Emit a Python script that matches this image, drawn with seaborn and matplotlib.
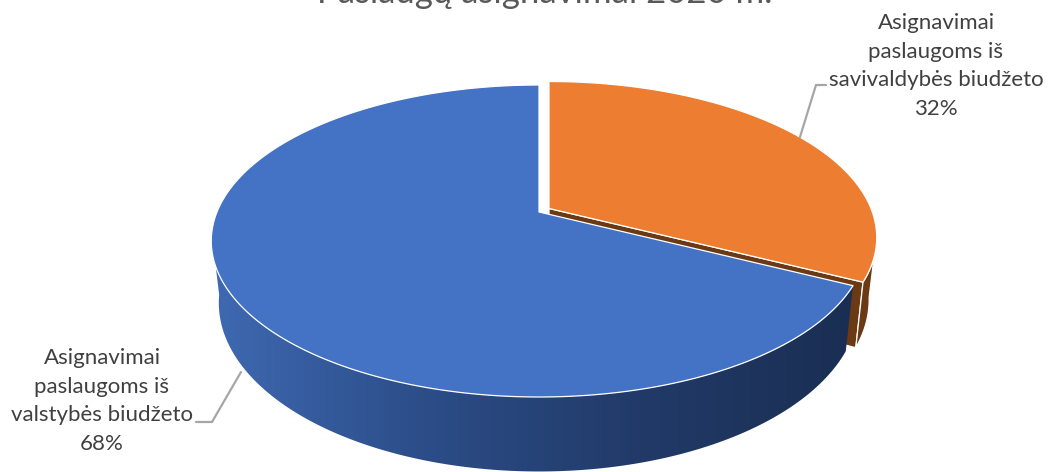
import numpy as np
import matplotlib
matplotlib.use("Agg")
import matplotlib.pyplot as plt
from matplotlib.colors import LinearSegmentedColormap
from matplotlib.patches import Polygon
import seaborn as sns

# ---- data ----
title = "Paslaugų asignavimai 2020 m."
categories = ["Asignavimai\npaslaugoms iš\nsavivaldybės biudžeto",
              "Asignavimai\npaslaugoms iš\nvalstybės biudžeto"]
values = [32.4, 67.6]
top_colors = ["#ED7D31", "#4472C4"]
cut_colors = ["#6B3A14", "#1A2E52"]
side_ramp = ["#3F6AB3", "#2C4D88", "#213A68", "#1A2E52"]

sns.set_theme(style="white")
plt.rcParams["font.family"] = ["Lato", "DejaVu Sans"]

W, H = 1057, 472
fig, ax = plt.subplots(figsize=(W / 100, H / 100), dpi=100)
fig.subplots_adjust(0, 0, 1, 1)
ax.set_xlim(0, W)
ax.set_ylim(H, 0)
ax.axis("off")

# perspective projection of the pie disc
CX, CY, A, B, K = 539.0, 241.0, 322.0, 156.0, 0.186
S_X, S_Y, DEPTH = 0.977, 1.08, 62.0


def project(theta_deg, r=1.0):
    t = np.radians(theta_deg)
    u, v = r * np.sin(t), -r * np.cos(t)
    d = 1 - K * v
    return A * u / d, (B * v - B * K) / d


def top(theta, off, r=1.0):
    x, y = project(theta, r)
    return np.column_stack([CX + off[0] + x, CY + off[1] + y])


def bottom(theta, off, r=1.0):
    x, y = project(theta, r)
    return np.column_stack([CX + off[0] + S_X * x, CY + off[1] + S_Y * y + DEPTH])


split = 360.0 * values[0] / sum(values)
off_o, off_b = (10.0, -3.5), (0.0, 0.0)
white = dict(edgecolor="white", linewidth=0.9, joinstyle="round")

# orange cut face and outer rim
cut = np.vstack([top(0, off_o, 0), top(split, off_o), bottom(split, off_o), bottom(0, off_o, 0)])
ax.add_patch(Polygon(cut, facecolor=cut_colors[0], zorder=1, **white))
th = np.linspace(100, split, 40)
rim = np.vstack([top(th, off_o), bottom(th, off_o)[::-1]])
ax.add_patch(Polygon(rim, facecolor=cut_colors[0], zorder=2, **white))
# orange top
th = np.linspace(0, split, 200)
ax.add_patch(Polygon(np.vstack([top(0, off_o, 0), top(th, off_o)]),
                     facecolor=top_colors[0], zorder=3, **white))

# blue side with horizontal gradient
th = np.linspace(split, 262, 200)
side = np.vstack([top(th, off_b), bottom(th, off_b)[::-1]])
patch = Polygon(side, facecolor="none", edgecolor="none", zorder=4)
ax.add_patch(patch)
cmap = LinearSegmentedColormap.from_list("side", side_ramp)
im = ax.imshow(np.linspace(0, 1, 256)[None, :], cmap=cmap, aspect="auto",
               extent=(205, 860, H, 0), zorder=4)
im.set_clip_path(patch)
ax.set_xlim(0, W)
ax.set_ylim(H, 0)
# blue top
th = np.linspace(split, 360, 400)
ax.add_patch(Polygon(np.vstack([top(0, off_b, 0), top(th, off_b)]),
                     facecolor=top_colors[1], zorder=5, **white))

# title (cut by the image edge, as in the reference)
ax.text(545, 3, title, ha="center", va="baseline", fontsize=25, color="#595959",
        zorder=10, clip_on=False)

# labels with leader lines
lab = dict(ha="center", va="center", fontsize=16, color="#404040", linespacing=1.53, zorder=10)
ax.text(936, 66, f"{categories[0]}\n{values[0]:.0f}%", **lab)
ax.text(102, 401, f"{categories[1]}\n{values[1]:.0f}%", **lab)
ax.plot([800, 816, 826], [137, 85, 85], color="#A6A6A6", lw=1.6, zorder=6)
ax.plot([241, 212, 196], [372, 422, 422], color="#A6A6A6", lw=1.6, zorder=6)

fig.savefig("out.png", dpi=100, facecolor="white")
